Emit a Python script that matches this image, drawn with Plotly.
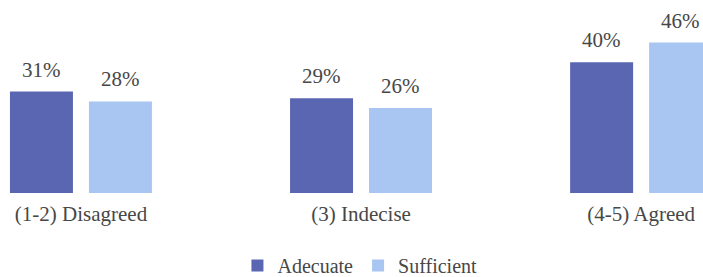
import plotly.graph_objects as go

categories = ["(1-2) Disagreed", "(3) Indecise", "(4-5) Agreed"]
adecuate = [31, 29, 40]
sufficient = [28, 26, 46]
series_names = ["Adecuate", "Sufficient"]
colors = ["#5B66B2", "#A9C6F2"]

FONT = "Liberation Serif"
TXT = "#474747"
BAR_OFFSET_PX = 39.5  # half distance between paired bar centres

fig = go.Figure()
for name, vals, col in zip(series_names, [adecuate, sufficient], colors):
    fig.add_trace(go.Bar(
        x=categories, y=vals, name=name,
        marker=dict(color=col, line=dict(width=0)),
    ))

annotations = []
for k, vals in enumerate([adecuate, sufficient]):
    shift = -BAR_OFFSET_PX if k == 0 else BAR_OFFSET_PX
    for c, v in zip(categories, vals):
        annotations.append(dict(
            x=c, y=v, xref="x", yref="y", text=f"{v}%", showarrow=False,
            xshift=shift, yshift=22, yanchor="middle", xanchor="center",
            font=dict(family=FONT, size=21, color=TXT),
        ))

fig.update_layout(
    width=703, height=277,
    margin=dict(l=0, r=0, t=0, b=84, autoexpand=False),
    paper_bgcolor="white", plot_bgcolor="white",
    barmode="group", bargap=0.436, bargroupgap=0.2025,
    font=dict(family=FONT, color=TXT),
    showlegend=True,
    legend=dict(orientation="h", x=0.512, xanchor="center", y=-0.375, yanchor="middle",
                font=dict(family=FONT, size=20, color=TXT)),
    annotations=annotations,
)
fig.update_xaxes(range=[-0.289, 2.221], showgrid=False, showline=False, zeroline=False,
                 ticks="", tickfont=dict(family=FONT, size=21, color=TXT),
                 ticklabelstandoff=6)
fig.update_yaxes(range=[0, 59], visible=False)

fig.write_html("out.html", config={"displayModeBar": False},
               post_script="document.body.style.margin='0';document.body.style.overflow='hidden';")
